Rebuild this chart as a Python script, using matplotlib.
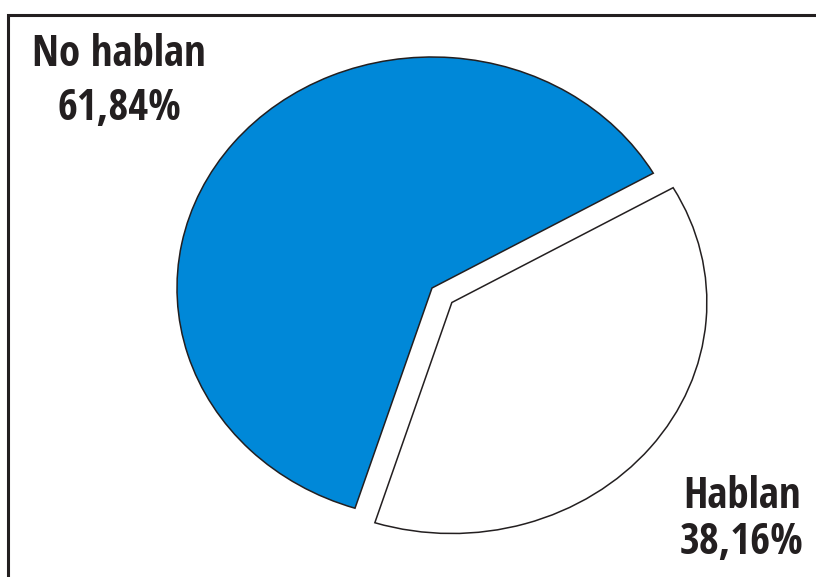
import matplotlib.pyplot as plt
from matplotlib.patches import Rectangle

# data
labels = ['No hablan', 'Hablan']
shares = [61.84, 38.16]
colors = ['#0088D8', '#FFFFFF']
explode = [0.0, 0.1]

W, H, DPI = 816, 577, 100
fig = plt.figure(figsize=(W / DPI, H / DPI), dpi=DPI)
ax = fig.add_axes([0, 0, 1, 1])

# pie centre and radii in pixels (ellipse, slightly wider than tall)
cx, cy = 432, 288
rx, ry = 255, 231

ax.pie(shares, colors=colors, explode=explode, startangle=29.8,
       counterclock=True,
       wedgeprops=dict(edgecolor='#231F20', linewidth=1.1))
ax.set_aspect('auto')
ax.set_xlim(-cx / rx, (W - cx) / rx)
ax.set_ylim(-(H - cy) / ry, cy / ry)
ax.axis('off')

# frame running off the right and bottom edges
fig.patches.append(Rectangle((7.5 / W, -0.1), 1.2, 1.1 - 14.5 / H,
                             transform=fig.transFigure, fill=False,
                             edgecolor='#231F20', linewidth=2.2))

font = dict(family=['Open Sans Condensed', 'DejaVu Sans'],
            fontweight='bold', fontsize=31, color='#231F20', ha='center')

def pct(v):
    return f'{v:.2f}'.replace('.', ',') + '%'

fig.text(119 / W, 1 - 66 / H, labels[0], va='baseline', **font)
fig.text(119 / W, 1 - 120 / H, pct(shares[0]), va='baseline', **font)
fig.text(742 / W, 1 - 508 / H, labels[1], va='baseline', **font)
fig.text(742 / W, 1 - 554 / H, pct(shares[1]), va='baseline', **font)

fig.savefig('out.png', dpi=DPI)
